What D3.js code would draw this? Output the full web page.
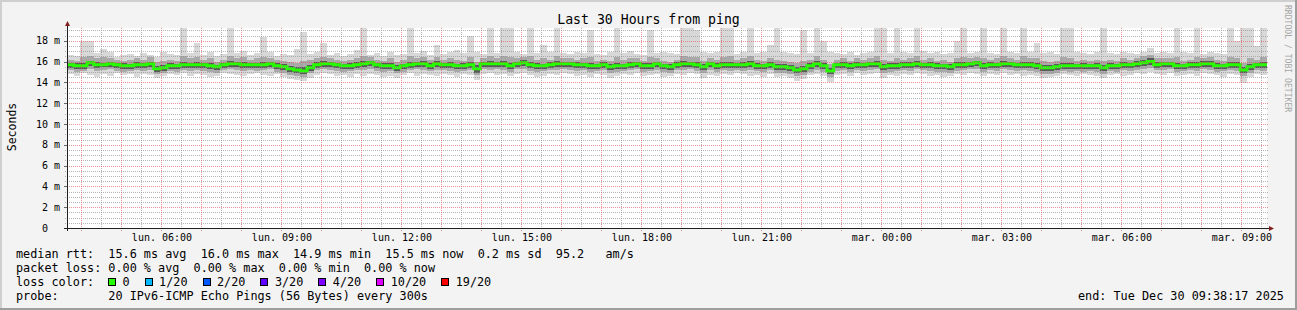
<!DOCTYPE html>
<html>
<head>
<meta charset="utf-8">
<script src="https://cdn.jsdelivr.net/npm/d3@7"></script>
<style>
  html, body { margin: 0; padding: 0; background: #f3f3f3; }
  svg { display: block; }
  text { font-family: "DejaVu Sans Mono", monospace; white-space: pre; }
</style>
</head>
<body>
<svg id="chart" width="1297" height="310"></svg>
<script>
'use strict';

// ---- data (ms), one value per 10 minute step ----
var median = [
  15.7, 15.6, 15.6, 15.9, 15.7, 15.7, 15.8, 15.7, 15.6, 15.6, 15.7, 15.7, 15.8, 15.3, 15.4,
  15.6, 15.6, 15.7, 15.7, 15.7, 15.7, 15.6, 15.5, 15.7, 15.8, 15.8, 15.7, 15.7, 15.7, 15.7,
  15.8, 15.6, 15.5, 15.3, 15.2, 15.1, 15.4, 15.7, 15.8, 15.8, 15.7, 15.6, 15.6, 15.7, 15.8,
  15.9, 15.7, 15.6, 15.6, 15.4, 15.6, 15.7, 15.8, 15.8, 15.6, 15.8, 15.7, 15.7, 15.6, 15.6,
  15.7, 15.3, 15.8, 15.8, 15.8, 15.8, 15.6, 15.8, 15.9, 15.7, 15.6, 15.6, 15.7, 15.8, 15.8,
  15.8, 15.7, 15.7, 15.6, 15.6, 15.7, 15.5, 15.6, 15.6, 15.7, 15.8, 15.6, 15.6, 15.8, 15.6,
  15.5, 15.7, 15.8, 15.8, 15.7, 15.5, 15.8, 15.6, 15.7, 15.7, 15.7, 15.7, 15.8, 15.6, 15.6,
  15.7, 15.5, 15.5, 15.4, 15.2, 15.3, 15.6, 15.8, 15.6, 15.1, 15.7, 15.7, 15.6, 15.7, 15.7,
  15.8, 15.8, 15.5, 15.6, 15.6, 15.7, 15.7, 15.8, 15.7, 15.7, 15.6, 15.6, 15.5, 15.7, 15.7,
  15.8, 15.9, 15.6, 15.7, 15.7, 15.8, 15.8, 15.7, 15.7, 15.7, 15.6, 15.4, 15.4, 15.5, 15.6,
  15.6, 15.6, 15.6, 15.6, 15.6, 15.4, 15.6, 15.6, 15.7, 15.7, 15.8, 15.9, 16.0, 15.7, 15.8,
  15.8, 15.6, 15.6, 15.7, 15.7, 15.8, 15.8, 15.6, 15.6, 15.7, 15.7, 15.2, 15.5, 15.7, 15.7
];

// outer smoke: slowest and fastest ping of each step
var smokeMax = [
  16.6, 16.5, 18.0, 18.0, 16.8, 17.2, 16.9, 16.4, 16.6, 16.7, 16.5, 16.8, 16.6, 16.4, 16.9,
  16.7, 16.6, 19.6, 16.8, 17.8, 16.6, 16.9, 16.5, 16.7, 19.6, 16.8, 17.0, 16.6, 16.8, 18.4,
  16.9, 16.5, 16.7, 16.6, 17.2, 18.8, 16.7, 16.9, 17.8, 16.6, 16.8, 16.5, 16.7, 17.1, 19.6,
  16.6, 16.8, 16.5, 16.9, 16.6, 16.7, 19.6, 16.8, 17.0, 16.6, 17.6, 16.7, 16.9, 17.1, 16.8,
  18.5, 16.9, 16.7, 19.6, 16.8, 19.6, 19.6, 16.9, 16.7, 19.6, 16.8, 17.6, 16.9, 19.6, 16.8,
  16.7, 16.9, 16.8, 19.0, 16.7, 16.6, 16.9, 19.6, 16.8, 17.0, 16.7, 16.6, 19.0, 16.8, 16.9,
  16.8, 16.7, 19.6, 19.6, 19.0, 16.9, 16.8, 16.9, 19.6, 19.6, 16.7, 16.9, 19.6, 16.8, 16.9,
  17.6, 19.6, 16.9, 16.8, 16.7, 19.0, 16.8, 19.6, 18.0, 16.9, 16.8, 16.7, 16.9, 16.6, 16.8,
  16.9, 19.6, 19.6, 16.8, 19.6, 16.9, 16.8, 19.6, 17.0, 16.8, 16.9, 16.7, 16.8, 18.0, 19.6,
  16.8, 16.9, 19.6, 16.8, 16.7, 19.6, 16.9, 16.8, 19.6, 16.9, 17.8, 16.8, 16.9, 16.7, 19.6,
  19.6, 16.9, 16.8, 16.7, 16.9, 19.6, 16.8, 16.7, 16.9, 16.8, 16.7, 16.9, 17.3, 16.8, 16.9,
  16.8, 19.6, 16.9, 16.8, 19.6, 16.7, 16.9, 16.8, 16.7, 19.6, 18.0, 19.6, 19.6, 17.5, 19.6
];
var smokeMin = [
  14.8, 14.6, 14.9, 14.7, 14.5, 14.8, 14.6, 14.9, 14.7, 14.8, 14.5, 14.8, 14.7, 14.4, 14.6,
  14.8, 14.7, 14.9, 14.6, 14.8, 14.7, 14.5, 14.6, 14.9, 14.8, 14.7, 14.6, 14.8, 14.9, 14.7,
  14.6, 14.8, 14.5, 14.3, 14.2, 14.1, 14.4, 14.7, 14.9, 14.8, 14.6, 14.7, 14.5, 14.8, 14.6,
  14.8, 14.7, 14.5, 14.6, 14.4, 14.7, 14.9, 14.6, 14.8, 14.7, 14.6, 14.8, 14.7, 14.5, 14.8,
  14.7, 14.2, 14.8, 14.9, 14.7, 14.8, 14.6, 14.8, 14.9, 14.7, 14.5, 14.6, 14.8, 14.7, 14.9,
  14.8, 14.6, 14.7, 14.5, 14.8, 14.7, 14.4, 14.6, 14.8, 14.7, 14.9, 14.6, 14.7, 14.8, 14.5,
  14.6, 14.8, 14.7, 14.9, 14.8, 14.4, 14.7, 14.6, 14.8, 14.7, 14.9, 14.8, 14.6, 14.7, 14.5,
  14.8, 14.5, 14.6, 14.4, 14.1, 14.3, 14.7, 14.8, 14.6, 14.0, 14.7, 14.8, 14.6, 14.9, 14.7,
  14.8, 14.9, 14.4, 14.7, 14.6, 14.8, 14.7, 14.9, 14.8, 14.6, 14.7, 14.5, 14.6, 14.8, 14.7,
  14.9, 14.8, 14.6, 14.8, 14.7, 14.9, 14.7, 14.8, 14.6, 14.7, 14.6, 14.4, 14.5, 14.6, 14.8,
  14.7, 14.6, 14.8, 14.7, 14.6, 14.4, 14.7, 14.8, 14.6, 14.7, 14.9, 14.8, 15.0, 14.8, 14.7,
  14.9, 14.6, 14.7, 14.8, 14.6, 14.9, 14.8, 14.7, 14.5, 14.8, 14.7, 13.9, 14.5, 14.8, 14.7
];

// middle smoke
var smokeMidHi = [
  16.2, 16.1, 16.4, 16.5, 16.3, 16.4, 16.3, 16.2, 16.1, 16.2, 16.3, 16.2, 16.4, 16.0, 16.1,
  16.2, 16.1, 16.5, 16.3, 16.4, 16.2, 16.3, 16.0, 16.2, 16.5, 16.3, 16.4, 16.2, 16.3, 16.4,
  16.3, 16.2, 16.1, 16.0, 15.9, 16.1, 16.2, 16.3, 16.4, 16.3, 16.2, 16.1, 16.2, 16.3, 16.5,
  16.4, 16.2, 16.1, 16.3, 16.0, 16.2, 16.5, 16.3, 16.4, 16.2, 16.4, 16.2, 16.3, 16.2, 16.1,
  16.4, 16.0, 16.3, 16.5, 16.3, 16.5, 16.4, 16.3, 16.4, 16.5, 16.2, 16.3, 16.2, 16.5, 16.3,
  16.3, 16.2, 16.3, 16.4, 16.1, 16.2, 16.1, 16.4, 16.2, 16.3, 16.3, 16.1, 16.4, 16.3, 16.1,
  16.0, 16.2, 16.5, 16.4, 16.4, 16.1, 16.3, 16.2, 16.4, 16.5, 16.2, 16.3, 16.5, 16.2, 16.1,
  16.3, 16.2, 16.1, 16.0, 15.9, 16.1, 16.2, 16.5, 16.2, 15.8, 16.2, 16.3, 16.1, 16.3, 16.2,
  16.3, 16.5, 16.2, 16.1, 16.3, 16.2, 16.3, 16.5, 16.2, 16.3, 16.1, 16.2, 16.0, 16.3, 16.4,
  16.3, 16.4, 16.3, 16.2, 16.3, 16.5, 16.3, 16.2, 16.5, 16.3, 16.3, 16.1, 16.0, 16.1, 16.4,
  16.3, 16.1, 16.2, 16.1, 16.2, 16.1, 16.2, 16.1, 16.3, 16.2, 16.3, 16.5, 16.6, 16.3, 16.3,
  16.3, 16.4, 16.1, 16.2, 16.4, 16.3, 16.4, 16.2, 16.1, 16.4, 16.3, 15.9, 16.3, 16.2, 16.4
];
var smokeMidLo = [
  15.2, 15.0, 15.1, 15.3, 15.1, 15.2, 15.3, 15.1, 15.0, 15.1, 15.2, 15.1, 15.2, 14.8, 14.9,
  15.1, 15.0, 15.2, 15.1, 15.2, 15.1, 15.0, 14.9, 15.2, 15.3, 15.2, 15.1, 15.2, 15.1, 15.2,
  15.3, 15.0, 14.9, 14.7, 14.6, 14.5, 14.9, 15.2, 15.3, 15.2, 15.1, 15.0, 15.1, 15.2, 15.2,
  15.3, 15.1, 15.0, 15.1, 14.9, 15.0, 15.2, 15.3, 15.2, 15.1, 15.2, 15.2, 15.1, 15.0, 15.1,
  15.2, 14.7, 15.3, 15.2, 15.3, 15.2, 15.0, 15.3, 15.3, 15.1, 15.0, 15.1, 15.2, 15.2, 15.3,
  15.2, 15.1, 15.2, 15.0, 15.1, 15.2, 14.9, 15.0, 15.1, 15.2, 15.3, 15.0, 15.1, 15.2, 15.0,
  14.9, 15.2, 15.2, 15.3, 15.1, 14.9, 15.2, 15.0, 15.2, 15.1, 15.2, 15.1, 15.2, 15.1, 15.0,
  15.2, 14.9, 14.9, 14.8, 14.6, 14.7, 15.0, 15.2, 15.0, 14.5, 15.1, 15.2, 15.0, 15.2, 15.1,
  15.2, 15.3, 14.9, 15.0, 15.1, 15.2, 15.1, 15.3, 15.2, 15.1, 15.0, 15.0, 14.9, 15.1, 15.2,
  15.3, 15.3, 15.0, 15.2, 15.1, 15.3, 15.2, 15.1, 15.2, 15.1, 15.0, 14.8, 14.8, 14.9, 15.1,
  15.0, 15.1, 15.0, 15.1, 15.0, 14.8, 15.1, 15.0, 15.2, 15.1, 15.2, 15.3, 15.4, 15.2, 15.2,
  15.3, 15.0, 15.1, 15.2, 15.1, 15.3, 15.2, 15.0, 15.1, 15.2, 15.1, 14.6, 14.9, 15.2, 15.1
];

// inner (darkest) smoke
var smokeInHi = [
  15.9, 15.9, 15.9, 16.1, 16.0, 15.9, 16.0, 15.9, 15.9, 15.8, 16.0, 15.9, 16.0, 15.6, 15.7,
  15.9, 15.8, 16.0, 15.9, 16.0, 15.9, 15.9, 15.7, 15.9, 16.1, 16.0, 16.0, 15.9, 15.9, 16.0,
  16.0, 15.9, 15.8, 15.6, 15.5, 15.5, 15.7, 16.0, 16.1, 16.0, 15.9, 15.8, 15.9, 16.0, 16.1,
  16.1, 15.9, 15.9, 15.9, 15.7, 15.8, 16.0, 16.0, 16.1, 15.9, 16.1, 15.9, 16.0, 15.8, 15.9,
  16.0, 15.7, 16.0, 16.1, 16.0, 16.1, 15.9, 16.0, 16.2, 16.0, 15.9, 15.8, 16.0, 16.1, 16.0,
  16.0, 16.0, 15.9, 15.9, 15.8, 16.0, 15.8, 15.9, 15.8, 16.0, 16.0, 15.9, 15.9, 16.0, 15.8,
  15.8, 16.0, 16.1, 16.0, 16.0, 15.8, 16.0, 15.9, 16.0, 16.0, 15.9, 16.0, 16.1, 15.9, 15.8,
  16.0, 15.8, 15.8, 15.7, 15.5, 15.6, 15.9, 16.1, 15.9, 15.4, 15.9, 16.0, 15.9, 16.0, 15.9,
  16.0, 16.1, 15.8, 15.9, 15.9, 16.0, 16.0, 16.1, 15.9, 16.0, 15.9, 15.8, 15.8, 16.0, 16.0,
  16.0, 16.1, 15.9, 16.0, 15.9, 16.1, 16.0, 15.9, 16.0, 16.0, 15.9, 15.7, 15.7, 15.8, 15.9,
  15.9, 15.8, 15.9, 15.8, 15.9, 15.7, 15.9, 15.8, 16.0, 15.9, 16.1, 16.2, 16.3, 16.0, 16.0,
  16.0, 15.9, 15.8, 16.0, 16.0, 16.1, 16.1, 15.9, 15.8, 16.0, 16.0, 15.5, 15.8, 15.9, 16.0
];
var smokeInLo = [
  15.4, 15.3, 15.3, 15.6, 15.4, 15.5, 15.5, 15.4, 15.3, 15.3, 15.4, 15.4, 15.5, 15.0, 15.1,
  15.3, 15.3, 15.4, 15.4, 15.4, 15.4, 15.3, 15.2, 15.4, 15.5, 15.5, 15.4, 15.4, 15.4, 15.4,
  15.5, 15.3, 15.2, 15.0, 14.9, 14.8, 15.1, 15.4, 15.5, 15.5, 15.4, 15.3, 15.3, 15.4, 15.5,
  15.6, 15.4, 15.3, 15.3, 15.1, 15.3, 15.4, 15.5, 15.5, 15.3, 15.5, 15.4, 15.4, 15.3, 15.3,
  15.4, 14.9, 15.5, 15.5, 15.5, 15.5, 15.3, 15.5, 15.6, 15.4, 15.3, 15.3, 15.4, 15.5, 15.5,
  15.5, 15.4, 15.4, 15.3, 15.3, 15.4, 15.2, 15.3, 15.3, 15.4, 15.5, 15.3, 15.3, 15.5, 15.3,
  15.2, 15.4, 15.5, 15.5, 15.4, 15.2, 15.5, 15.3, 15.4, 15.4, 15.4, 15.4, 15.5, 15.3, 15.3,
  15.4, 15.2, 15.2, 15.1, 14.9, 15.0, 15.3, 15.5, 15.3, 14.8, 15.4, 15.4, 15.3, 15.4, 15.4,
  15.5, 15.5, 15.2, 15.3, 15.3, 15.4, 15.4, 15.5, 15.4, 15.4, 15.3, 15.3, 15.2, 15.4, 15.4,
  15.5, 15.6, 15.3, 15.4, 15.4, 15.5, 15.5, 15.4, 15.4, 15.4, 15.3, 15.1, 15.1, 15.2, 15.3,
  15.3, 15.3, 15.3, 15.3, 15.3, 15.1, 15.3, 15.3, 15.4, 15.4, 15.5, 15.6, 15.7, 15.4, 15.5,
  15.5, 15.3, 15.3, 15.4, 15.4, 15.5, 15.5, 15.3, 15.3, 15.4, 15.4, 14.9, 15.2, 15.4, 15.4
];

var startTime = new Date(Date.UTC(2025, 11, 29, 3, 38, 17));
var endTime = new Date(Date.UTC(2025, 11, 30, 9, 38, 17));
var stepMinutes = 10;

var yTicks = [0, 2, 4, 6, 8, 10, 12, 14, 16, 18];
var yMax = 19.23;
var dayNames = ["dim.", "lun.", "mar.", "mer.", "jeu.", "ven.", "sam."];

var rttValues = [15.6, 16.0, 14.9, 15.5];
var statNames = ["avg", "max", "min", "now"];
var rttSd = 0.2;
var rttAmS = 95.2;
var lossValues = [0, 0, 0, 0];

var lossLabels = ["0", "1/20", "2/20", "3/20", "4/20", "10/20", "19/20"];
var lossColors = ["#26ff00", "#00b8ff", "#0059ff", "#5e00ff", "#7e00ff", "#dd00ff", "#ff0000"];

var title = "Last 30 Hours from ping";
var yTitle = "Seconds";
var probeText = "20 IPv6-ICMP Echo Pings (56 Bytes) every 300s";
var watermark = "RRDTOOL / TOBI OETIKER";

// ---- layout ----
var W = 1297, H = 310;
var X0 = 67, X1 = 1267, Y0 = 228, Y1 = 28;
var legendX = 16, charW = 7.1;

var svg = d3.select('#chart');

var x = d3.scaleUtc().domain([startTime, endTime]).range([X0, X1]);
var y = d3.scaleLinear().domain([0, yMax]).range([Y0, Y1]);

function stepTime(i) { return d3.utcMinute.offset(startTime, i * stepMinutes); }

// background and 3d frame
svg.append('rect').attr('width', W).attr('height', H).attr('fill', '#f3f3f3');
svg.append('rect').attr('x', 0).attr('y', 0).attr('width', W).attr('height', 2).attr('fill', '#cfcfcf');
svg.append('rect').attr('x', 0).attr('y', 0).attr('width', 2).attr('height', H).attr('fill', '#cfcfcf');
svg.append('rect').attr('x', 0).attr('y', H - 2).attr('width', W).attr('height', 2).attr('fill', '#9e9e9e');
svg.append('rect').attr('x', W - 2).attr('y', 0).attr('width', 2).attr('height', H).attr('fill', '#9e9e9e');

// canvas
svg.append('rect').attr('x', X0).attr('y', Y1).attr('width', X1 - X0).attr('height', Y0 - Y1).attr('fill', '#ffffff');

svg.append('clipPath').attr('id', 'plotclip')
  .append('rect').attr('x', X0).attr('y', Y1).attr('width', X1 - X0).attr('height', Y0 - Y1);

// smoke
var bands = [
  { lo: smokeMin, hi: smokeMax, color: '#d8d8d8' },
  { lo: smokeMidLo, hi: smokeMidHi, color: '#a9a9a9' },
  { lo: smokeInLo, hi: smokeInHi, color: '#595959' }
];
var N = median.length;
var plot = svg.append('g').attr('clip-path', 'url(#plotclip)');

bands.forEach(function(b) {
  plot.append('g')
    .selectAll('rect')
    .data(d3.range(N))
    .join('rect')
      .attr('x', i => x(stepTime(i)))
      .attr('width', i => x(stepTime(i + 1)) - x(stepTime(i)))
      .attr('y', i => y(b.hi[i]))
      .attr('height', i => y(b.lo[i]) - y(b.hi[i]))
      .attr('fill', b.color)
      .attr('shape-rendering', 'crispEdges');
});

// median, coloured by loss (no loss in this period)
var medLine = d3.line()
  .x(i => x(stepTime(i)))
  .y(i => y(median[Math.min(i, N - 1)]))
  .curve(d3.curveStepAfter);

plot.append('path')
  .attr('d', medLine(d3.range(N + 1)))
  .attr('fill', 'none')
  .attr('stroke', lossColors[0])
  .attr('stroke-width', 3);

// grid (drawn over the smoke, rrdtool default colours)
var grid = svg.append('g');
var minorCol = 'rgba(143,143,143,0.65)', majorCol = 'rgba(222,79,79,0.6)';

function px(v) { return Math.round(v) + 0.5; }

function dotted(sel) {
  return sel.attr('stroke-width', 1).attr('stroke-dasharray', '1 1').attr('fill', 'none');
}

// hours for the major lines, half hours between them for the minor ones
var hourLines = d3.utcHour.range(startTime, endTime);
var halfLines = d3.utcHour.range(d3.utcHour.offset(startTime, -1), endTime)
  .map(d => d3.utcMinute.offset(d, 30))
  .filter(d => d > startTime && d < endTime);

var hMinor = d3.range(0.5, yMax, 0.5).filter(v => v % 2 !== 0);
grid.append('g').selectAll('line').data(hMinor).join('line')
  .attr('x1', X0 - 2).attr('x2', X1 + 2)
  .attr('y1', v => px(y(v))).attr('y2', v => px(y(v)))
  .attr('stroke', minorCol).call(dotted);

grid.append('g').selectAll('line').data(halfLines).join('line')
  .attr('x1', d => px(x(d))).attr('x2', d => px(x(d)))
  .attr('y1', Y1).attr('y2', Y0 + 2)
  .attr('stroke', minorCol).call(dotted);

grid.append('g').selectAll('line').data(yTicks.filter(v => v > 0)).join('line')
  .attr('x1', X0).attr('x2', X1 + 2)
  .attr('y1', v => px(y(v))).attr('y2', v => px(y(v)))
  .attr('stroke', majorCol).call(dotted);

grid.append('g').selectAll('line').data(hourLines).join('line')
  .attr('x1', d => px(x(d))).attr('x2', d => px(x(d)))
  .attr('y1', Y1).attr('y2', Y0 + 3)
  .attr('stroke', majorCol).call(dotted);

// short solid ticks left of the value axis
grid.append('g').selectAll('line').data(yTicks).join('line')
  .attr('x1', X0 - 3).attr('x2', X0)
  .attr('y1', v => px(y(v))).attr('y2', v => px(y(v)))
  .attr('stroke', '#666');

// axes lines and arrows
var arrowCol = '#801f1f', axisCol = '#1f1f1f';
svg.append('line').attr('x1', X0 - 3).attr('x2', X1 + 3).attr('y1', Y0 + 0.5).attr('y2', Y0 + 0.5)
  .attr('stroke', axisCol);
svg.append('line').attr('x1', X0 + 0.5).attr('x2', X0 + 0.5).attr('y1', Y0 + 3).attr('y2', Y1 - 3)
  .attr('stroke', axisCol);
svg.append('path')
  .attr('d', 'M' + (X1 + 2) + ',' + (Y0 - 2) + 'L' + (X1 + 7) + ',' + (Y0 + 0.5) + 'L' + (X1 + 2) + ',' + (Y0 + 3) + 'Z')
  .attr('fill', arrowCol);
svg.append('path')
  .attr('d', 'M' + (X0 - 2) + ',' + (Y1 - 2) + 'L' + (X0 + 0.5) + ',' + (Y1 - 7) + 'L' + (X0 + 3) + ',' + (Y1 - 2) + 'Z')
  .attr('fill', arrowCol);

// axis labels
var yAxis = d3.axisLeft(y)
  .tickValues(yTicks)
  .tickSize(0)
  .tickPadding(7)
  .tickFormat(v => v === 0 ? '0\u00a0\u00a0' : v + '\u00a0m');
var gy = svg.append('g').attr('transform', 'translate(' + X0 + ',0)').call(yAxis);
gy.select('.domain').remove();
gy.selectAll('text').attr('font-family', '"DejaVu Sans Mono", monospace').attr('font-size', 10).attr('fill', '#000');

var timeFmt = d3.utcFormat('%H:%M');
var xAxis = d3.axisBottom(x)
  .tickValues(hourLines.filter(d => d.getUTCHours() % 3 === 0))
  .tickSize(0)
  .tickPadding(5.4)
  .tickFormat(d => dayNames[d.getUTCDay()] + ' ' + timeFmt(d));
var gx = svg.append('g').attr('transform', 'translate(0,' + Y0 + ')').call(xAxis);
gx.select('.domain').remove();
gx.selectAll('text').attr('font-family', '"DejaVu Sans Mono", monospace').attr('font-size', 10).attr('fill', '#000');

// titles
svg.append('text')
  .attr('x', W / 2).attr('y', 24)
  .attr('text-anchor', 'middle')
  .attr('font-size', 13.2)
  .text(title);

svg.append('text')
  .attr('transform', 'translate(15.5,127) rotate(-90)')
  .attr('text-anchor', 'middle')
  .attr('font-size', 11.5)
  .text(yTitle);

svg.append('text')
  .attr('transform', 'translate(1284.5,5) rotate(90)')
  .attr('font-size', 8.1)
  .attr('fill', '#a6a6a6')
  .text(watermark);

// legend
function legendLine(str, yy) {
  svg.append('text')
    .attr('x', legendX).attr('y', yy)
    .attr('font-size', 11.8)
    .attr('xml:space', 'preserve')
    .text(str);
}

var rttStr = 'median rtt:  ' +
  rttValues.map((v, i) => v.toFixed(1) + ' ms ' + statNames[i]).join('  ') +
  '  ' + rttSd.toFixed(1) + ' ms sd  ' + rttAmS.toFixed(1) + '   am/s';
var lossStr = 'packet loss: ' +
  lossValues.map((v, i) => v.toFixed(2) + ' % ' + statNames[i]).join('  ');

legendLine(rttStr, 257.8);
legendLine(lossStr, 271.8);
legendLine('loss color:', 285.8);
legendLine('probe:       ' + probeText, 299.6);

var bx = legendX + 13 * charW - 0.3;
lossLabels.forEach(function(lbl, i) {
  svg.append('rect')
    .attr('x', bx + 0.5).attr('y', 278.5)
    .attr('width', 7).attr('height', 7)
    .attr('fill', lossColors[i])
    .attr('stroke', '#000').attr('stroke-width', 1)
    .attr('shape-rendering', 'crispEdges');
  svg.append('text')
    .attr('x', bx + 14.5).attr('y', 285.8)
    .attr('font-size', 11.8)
    .text(lbl);
  bx = bx + 14.5 + lbl.length * charW + 15;
});

svg.append('text')
  .attr('x', 1078).attr('y', 299.6)
  .attr('font-size', 11.8)
  .attr('xml:space', 'preserve')
  .text('end: ' + d3.utcFormat('%a %b %d %H:%M:%S %Y')(endTime));
</script>
</body>
</html>
